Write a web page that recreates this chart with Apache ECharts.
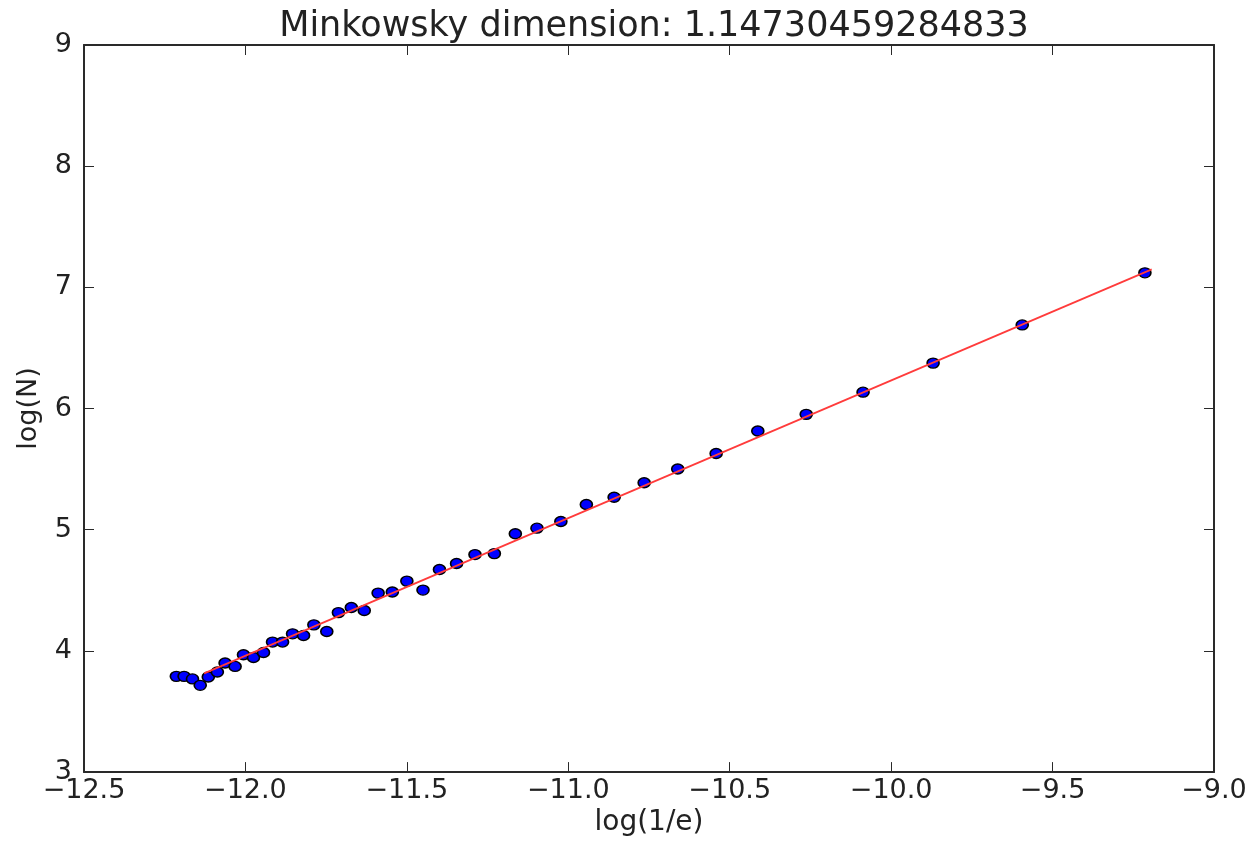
<!DOCTYPE html>
<html>
<head>
<meta charset="utf-8">
<script src="https://cdn.jsdelivr.net/npm/echarts@6/dist/echarts.min.js"></script>
<style>
html,body{margin:0;padding:0;background:#fff;}
#chart{width:1255px;height:842px;}
</style>
</head>
<body>
<div id="chart"></div>
<script>
const titleText = 'Minkowsky dimension: 1.14730459284833';
const xName = 'log(1/e)';
const yName = 'log(N)';

const pointsX = [-12.214,-12.190,-12.164,-12.140,-12.115,-12.087,-12.063,-12.032,-12.006,-11.975,
  -11.944,-11.916,-11.885,-11.854,-11.820,-11.788,-11.748,-11.712,-11.672,-11.632,
  -11.589,-11.545,-11.500,-11.450,-11.399,-11.346,-11.289,-11.229,-11.164,-11.097,
  -11.023,-10.944,-10.858,-10.765,-10.661,-10.542,-10.413,-10.263,-10.087,-9.870,
  -9.594,-9.214];
const pointsY = [3.790,3.790,3.769,3.716,3.785,3.826,3.900,3.872,3.968,3.946,
  3.987,4.073,4.073,4.141,4.127,4.215,4.160,4.316,4.358,4.334,
  4.477,4.486,4.576,4.502,4.672,4.721,4.795,4.803,4.967,5.013,
  5.068,5.208,5.268,5.388,5.501,5.629,5.815,5.952,6.135,6.375,
  6.690,7.120];

const fitX = [-12.128, -9.193];
const fitY = [3.815, 7.148];

const xTicks = [-12.5,-12.0,-11.5,-11.0,-10.5,-10.0,-9.5,-9.0];
const yTicks = [3,4,5,6,7,8,9];

const scatterData = pointsX.map((x,i)=>[x,pointsY[i]]);
const fitData = fitX.map((x,i)=>[x,fitY[i]]);

const axisColor = '#2a2a2a';
const font = 'DejaVu Sans';

function fmtX(v){ return (v<0?'\u2212':'') + Math.abs(v).toFixed(1); }

const chart = echarts.init(document.getElementById('chart'), null, {renderer:'canvas'});
chart.setOption({
  animation:false,
  backgroundColor:'#ffffff',
  title:{
    text:titleText, left:649, top:4, textAlign:'center',
    textStyle:{fontFamily:font, fontSize:35, fontWeight:'normal', color:'#222'}
  },
  grid:{left:84, right:41, top:45, bottom:65, containLabel:false},
  xAxis:[{
    type:'value', min:xTicks[0], max:xTicks[xTicks.length-1], interval:0.5,
    position:'bottom',
    name:xName, nameLocation:'middle', nameGap:33,
    nameTextStyle:{fontFamily:font, fontSize:28, color:'#222'},
    axisLine:{show:true, onZero:false, lineStyle:{color:axisColor, width:2}},
    axisTick:{show:true, inside:true, length:10, lineStyle:{color:axisColor, width:1}},
    axisLabel:{fontFamily:font, fontSize:27, color:'#222', margin:5, formatter:fmtX, showMinLabel:true, showMaxLabel:true},
    splitLine:{show:false}
  },{
    type:'value', min:xTicks[0], max:xTicks[xTicks.length-1], interval:0.5,
    position:'top',
    axisLine:{show:true, onZero:false, lineStyle:{color:axisColor, width:2}},
    axisTick:{show:true, inside:true, length:10, lineStyle:{color:axisColor, width:1}},
    axisLabel:{show:false}, splitLine:{show:false}
  }],
  yAxis:[{
    type:'value', min:yTicks[0], max:yTicks[yTicks.length-1], interval:1,
    position:'left',
    name:yName, nameLocation:'middle', nameGap:42, nameRotate:90,
    nameTextStyle:{fontFamily:font, fontSize:27, color:'#222'},
    axisLine:{show:true, onZero:false, lineStyle:{color:axisColor, width:2}},
    axisTick:{show:true, inside:true, length:10, lineStyle:{color:axisColor, width:1}},
    axisLabel:{fontFamily:font, fontSize:27, color:'#222', margin:12, showMinLabel:true, showMaxLabel:true},
    splitLine:{show:false}
  },{
    type:'value', min:yTicks[0], max:yTicks[yTicks.length-1], interval:1,
    position:'right',
    axisLine:{show:true, onZero:false, lineStyle:{color:axisColor, width:2}},
    axisTick:{show:true, inside:true, length:10, lineStyle:{color:axisColor, width:1}},
    axisLabel:{show:false}, splitLine:{show:false}
  }],
  series:[{
    type:'scatter', data:scatterData, symbol:'circle', symbolSize:[12,10],
    itemStyle:{color:'#0000ff', opacity:1, borderColor:'#000', borderWidth:1.5},
    z:2
  },{
    type:'line', data:fitData, showSymbol:false, symbol:'none',
    lineStyle:{color:'#ff3b3b', width:1.8},
    z:3
  }]
});
</script>
</body>
</html>
